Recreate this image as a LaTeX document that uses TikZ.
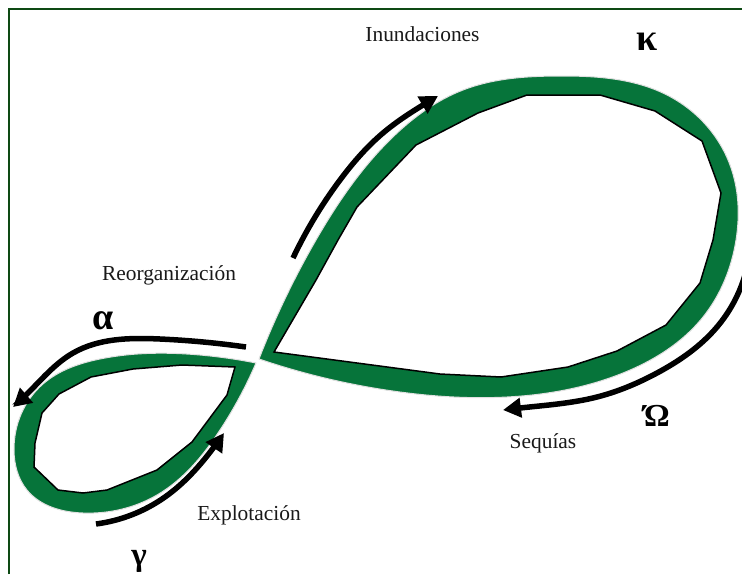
\documentclass[tikz,border=0pt]{standalone}
\usepackage{fontspec}
\setmainfont{Liberation Serif}
\usetikzlibrary{arrows.meta,hobby}
\definecolor{bandgreen}{HTML}{06743A}
\definecolor{framegreen}{HTML}{0E4A14}
\tikzset{
  x=1pt,y=-1pt,
  band/.style={fill=bandgreen,draw=black!12,line width=1pt,line join=round,use Hobby shortcut},
  hole/.style={fill=white,draw=black,line width=1.5pt,line join=miter},
  flow/.style={draw=black,line width=5.5pt,use Hobby shortcut,-{Triangle[length=18pt,width=19pt]}},
  lbl/.style={inner sep=0pt,font=\fontsize{21.4}{24}\selectfont,text=black!90},
  sym/.style={inner sep=0pt,font=\fontsize{38}{40}\selectfont\bfseries,text=black},
  frame/.style={draw=framegreen,line width=2pt}
}
\begin{document}
\begin{tikzpicture}
\useasboundingbox (0,0) rectangle (742,574);
\fill[white] (0,0) rectangle (742,574);
\coordinate (fa) at (9,574);
\coordinate (fb) at (9,9);
\coordinate (fc) at (742,9);
\draw[frame] (fa) -- (fb) -- (fc);
% large loop
\draw[band] (259,359) .. (316,240) .. (395,135) .. (463,90) .. (560,76) .. (667,95) .. (730,165) .. (736,240) .. (703,317) .. (623,373) .. (507,397) .. (400,392) .. (259,359) -- cycle;
\draw[hole] (274,352) -- (316,280) -- (338,240) -- (357,207) -- (416,145) -- (478,113) -- (527,95) -- (600,95) -- (655,111) -- (702,141) -- (721,193) -- (713,240) -- (700,283) -- (666,325) -- (617,351) -- (568,367) -- (501,377) -- (440,374) -- cycle;
% small loop
\draw[band] (256,363) .. (220,430) .. (157,495) .. (83,513) .. (27,490) .. (14,450) .. (43,384) .. (100,359) .. (200,355) .. (256,363) -- cycle;
\draw[hole] (235,367) -- (227,395) -- (192,442) -- (157,470) -- (107,490) -- (83,493) -- (58,490) -- (34,467) -- (35,443) -- (42,413) -- (59,394) -- (91,377) -- (133,369) -- (182,365) -- cycle;
% arrows
\coordinate (a1s) at (293,258);
\coordinate (a1e) at (438,96);
\draw[flow] (a1s) .. (340,180) .. (383,133) .. (423,105) .. (a1e);
\coordinate (a2s) at (246,347);
\coordinate (a2e) at (13,407);
\draw[flow] (a2s) .. (160,339) .. (73,353) .. (27,394) .. (a2e);
\coordinate (a3s) at (96,524);
\coordinate (a3e) at (224,433);
\draw[flow] (a3s) .. (165,497) .. (214,447) .. (a3e);
\coordinate (a4s) at (745,275);
\coordinate (a4e) at (503,410);
\begin{scope}
\clip (0,0) rectangle (742,574);
\draw[flow] (a4s) .. (717,327) .. (657,373) .. (597,397) .. (520,408) .. (a4e);
\end{scope}
% labels
\node[lbl] (inund) at (422.5,34) {Inundaciones};
\node[lbl] (reorg) at (169,275) {Reorganización};
\node[lbl] (expl) at (249,515) {Explotación};
\node[lbl] (seq) at (543,443) {Sequías};
\node[sym] (kappa) at (647,42) {κ};
\node[sym] (alpha) at (103,321) {α};
\node[sym,font=\fontsize{33}{36}\selectfont\bfseries] (gamma) at (139,561) {γ};
\node[sym,font=\fontsize{32}{36}\selectfont\bfseries] (omega) at (657,416) {Ώ};
\end{tikzpicture}
\end{document}
